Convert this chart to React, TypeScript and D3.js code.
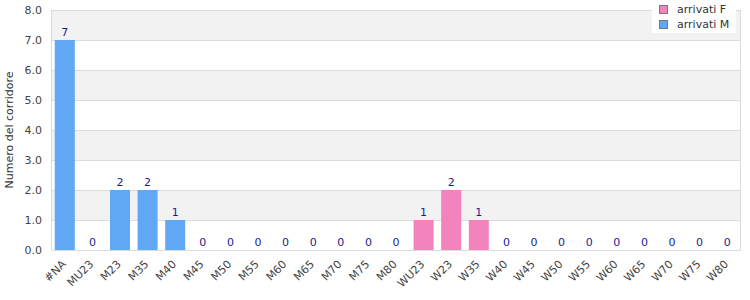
import React from "react";
import * as d3 from "d3";

const categories = ["#NA","MU23","M23","M35","M40","M45","M50","M55","M60","M65","M70","M75","M80","WU23","W23","W35","W40","W45","W50","W55","W60","W65","W70","W75","W80"];
const seriesM = [7,0,2,2,1,0,0,0,0,0,0,0,0,null,null,null,null,null,null,null,null,null,null,null,null];
const seriesF = [null,null,null,null,null,null,null,null,null,null,null,null,null,1,2,1,0,0,0,0,0,0,0,0,0];
const yTicks = [0,1,2,3,4,5,6,7,8];
const legendLabels = ["arrivati F", "arrivati M"];

const W = 750, H = 300;
const M = { left: 51, right: 9, top: 10, bottom: 50 };
const FONT = "DejaVu Sans, sans-serif";
const BLUE = "#60a8f4";
const PINK = "#f283bd";
const LABEL = "#1c1c8e";
const GRID = "#dcdcdc";

export default function App() {
  const x = d3.scaleBand<string>().domain(categories).range([M.left, W - M.right]).paddingInner(0.275).paddingOuter(0.1375);
  const y = d3.scaleLinear().domain([0, 8]).range([H - M.bottom, M.top]);
  const bars: { cat: string; v: number; color: string }[] = [];
  categories.forEach((c, i) => {
    if (seriesM[i] !== null) bars.push({ cat: c, v: seriesM[i] as number, color: BLUE });
    if (seriesF[i] !== null) bars.push({ cat: c, v: seriesF[i] as number, color: PINK });
  });
  const bands = yTicks.slice(0, -1).map((t) => ({ t, gray: t % 2 === 1 }));
  return (
    <svg width={W} height={H} style={{ position: "absolute", left: 0, top: 0 }} fontFamily={FONT}>
      <rect x={0} y={0} width={W} height={H} fill="#fff" />
      {bands.map((b) => (
        <rect key={b.t} x={M.left} y={y(b.t + 1)} width={W - M.right - M.left} height={y(b.t) - y(b.t + 1)} fill={b.gray ? "#f2f2f2" : "#fff"} />
      ))}
      {yTicks.map((t) => (
        <line key={t} x1={M.left} x2={W - M.right} y1={y(t) + 0.5} y2={y(t) + 0.5} stroke={GRID} />
      ))}
      <line x1={M.left + 0.5} x2={M.left + 0.5} y1={M.top} y2={H - M.bottom} stroke={GRID} />
      <line x1={W - M.right - 0.5} x2={W - M.right - 0.5} y1={M.top} y2={H - M.bottom} stroke={GRID} />
      {yTicks.map((t) => (
        <text key={t} x={M.left - 9} y={y(t)} dy="0.35em" textAnchor="end" fontSize={11} fill="#444">{t.toFixed(1)}</text>
      ))}
      <text transform={`translate(9,${(M.top + H - M.bottom) / 2}) rotate(-90)`} textAnchor="middle" dy="0.35em" fontSize={11} fill="#333">Numero del corridore</text>
      {bars.map((b) => (
        <g key={b.cat}>
          {b.v > 0 && (
            <rect x={x(b.cat)} y={y(b.v)} width={x.bandwidth()} height={y(0) - y(b.v)} fill={b.color} />
          )}
          <text x={(x(b.cat) as number) + x.bandwidth() / 2} y={y(b.v) - 4} textAnchor="middle" fontSize={11} fill={LABEL}>{b.v}</text>
        </g>
      ))}
      {categories.map((c) => {
        const cx = (x(c) as number) + x.bandwidth() / 2 - 1;
        return (
          <text key={c} transform={`translate(${cx},${H - M.bottom + 12}) rotate(-45)`} textAnchor="end" dy="0.35em" fontSize={11} fill="#444">{c}</text>
        );
      })}
      <rect x={652} y={0} width={84} height={33} fill="#fff" />
      {legendLabels.map((l, i) => (
        <g key={l}>
          <rect x={659.5} y={5.5 + i * 15} width={8} height={8} fill={i === 0 ? PINK : BLUE} stroke="#777" />
          <text x={677} y={9.5 + i * 15} dy="0.35em" fontSize={11} fill="#333">{l}</text>
        </g>
      ))}
    </svg>
  );
}
